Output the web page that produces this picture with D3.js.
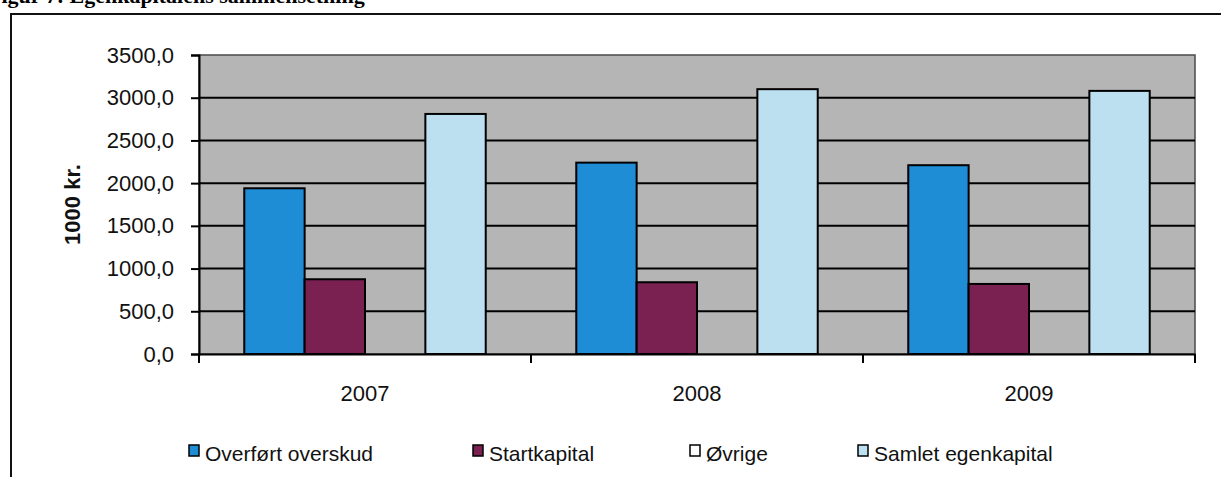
<!DOCTYPE html>
<html>
<head>
<meta charset="utf-8">
<script src="https://cdn.jsdelivr.net/npm/d3@7"></script>
<style>
  body { margin: 0; background: #fff; }
  svg { display: block; font-family: "Liberation Sans", Arial, sans-serif; }
</style>
</head>
<body>
<div id="chart"></div>
<script>
// chart values (1000 kr.)
const years = ["2007", "2008", "2009"];
const seriesNames = ["Overført overskud", "Startkapital", "Øvrige", "Samlet egenkapital"];
const overfortOverskud = [1940, 2240, 2210];
const startkapital = [875, 840, 820];
const ovrige = [0, 0, 0];
const samletEgenkapital = [2810, 3100, 3080];
const yTicks = [0, 500, 1000, 1500, 2000, 2500, 3000, 3500];

const seriesValues = [overfortOverskud, startkapital, ovrige, samletEgenkapital];
const colors = ["#1f8cd6", "#7a2152", "#ffffff", "#bde0f0"];

const width = 1221, height = 477;
const margin = { top: 55, right: 26, bottom: 123, left: 199 };

const svg = d3.select("#chart").append("svg")
  .attr("width", width)
  .attr("height", height);

// page frame and cut-off caption
svg.append("text")
  .attr("x", -12).attr("y", 3)
  .attr("font-family", "Liberation Serif, Times New Roman, serif")
  .attr("font-weight", "bold")
  .attr("font-size", 22)
  .text("Figur 7: Egenkapitalens sammensetning");

svg.append("path")
  .attr("d", `M11,${height} V14 H${width}`)
  .attr("fill", "none")
  .attr("stroke", "#111")
  .attr("stroke-width", 2);

const x0 = d3.scaleBand()
  .domain(years)
  .range([margin.left, width - margin.right]);

const x1 = d3.scaleBand()
  .domain(seriesNames)
  .range([0, x0.bandwidth()])
  .paddingOuter(0.75);

const y = d3.scaleLinear()
  .domain([0, 3500])
  .range([height - margin.bottom, margin.top]);

const plotL = margin.left, plotR = width - margin.right;

// plot background
svg.append("rect")
  .attr("x", plotL).attr("y", y(3500))
  .attr("width", plotR - plotL).attr("height", y(0) - y(3500))
  .attr("fill", "#b5b5b5")
  .attr("stroke", "#4a4a4a")
  .attr("stroke-width", 1.5);

// gridlines
svg.append("g")
  .selectAll("line")
  .data(yTicks.filter(d => d > 0 && d < 3500))
  .join("line")
  .attr("x1", plotL).attr("x2", plotR)
  .attr("y1", d => y(d)).attr("y2", d => y(d))
  .attr("stroke", "#000")
  .attr("stroke-width", 2);

// bars
const rows = years.map((yr, i) => ({
  year: yr,
  vals: seriesNames.map((s, j) => ({ key: s, value: seriesValues[j][i], color: colors[j] }))
}));

svg.append("g")
  .selectAll("g")
  .data(rows)
  .join("g")
  .attr("transform", d => `translate(${x0(d.year)},0)`)
  .selectAll("rect")
  .data(d => d.vals.filter(v => v.value > 0))
  .join("rect")
  .attr("x", d => x1(d.key))
  .attr("y", d => y(d.value))
  .attr("width", x1.bandwidth())
  .attr("height", d => y(0) - y(d.value))
  .attr("fill", d => d.color)
  .attr("stroke", "#000")
  .attr("stroke-width", 2);

// y axis
const yAxis = svg.append("g")
  .attr("transform", `translate(${plotL},0)`)
  .call(d3.axisLeft(y).tickValues(yTicks).tickSize(8).tickPadding(17)
    .tickFormat(d => d3.format(".1f")(d).replace(".", ",")));
yAxis.select(".domain").attr("stroke", "#000").attr("stroke-width", 2);
yAxis.selectAll(".tick line").attr("stroke", "#000").attr("stroke-width", 2);
yAxis.selectAll("text").attr("font-size", 22).attr("fill", "#111")
  .attr("font-family", "Liberation Sans, Arial, sans-serif");

// x axis
const xAxis = svg.append("g")
  .attr("transform", `translate(0,${y(0)})`)
  .call(d3.axisBottom(x0).tickSize(0).tickPadding(31));
xAxis.select(".domain").attr("stroke", "#000").attr("stroke-width", 2);
xAxis.selectAll("text").attr("font-size", 22).attr("fill", "#111")
  .attr("font-family", "Liberation Sans, Arial, sans-serif");

// category separator ticks
const sepX = years.map(d => x0(d)).concat([plotR]);
svg.append("g")
  .selectAll("line")
  .data(sepX)
  .join("line")
  .attr("x1", d => d).attr("x2", d => d)
  .attr("y1", y(0)).attr("y2", y(0) + 9)
  .attr("stroke", "#000")
  .attr("stroke-width", 2);

// y label
svg.append("text")
  .attr("transform", `translate(80,${(y(0) + y(3500)) / 2}) rotate(-90)`)
  .attr("text-anchor", "middle")
  .attr("font-size", 22)
  .attr("font-weight", "bold")
  .attr("fill", "#111")
  .text("1000 kr.");

// legend
const legendX = [189, 473, 690, 858];
const legend = svg.append("g")
  .selectAll("g")
  .data(seriesNames)
  .join("g")
  .attr("transform", (d, i) => `translate(${legendX[i]},445)`);

legend.append("rect")
  .attr("width", 10).attr("height", 11)
  .attr("fill", (d, i) => colors[i])
  .attr("stroke", "#000")
  .attr("stroke-width", 1.5);

legend.append("text")
  .attr("x", 16).attr("y", 16)
  .attr("font-size", 21)
  .attr("fill", "#111")
  .text(d => d);
</script>
</body>
</html>
